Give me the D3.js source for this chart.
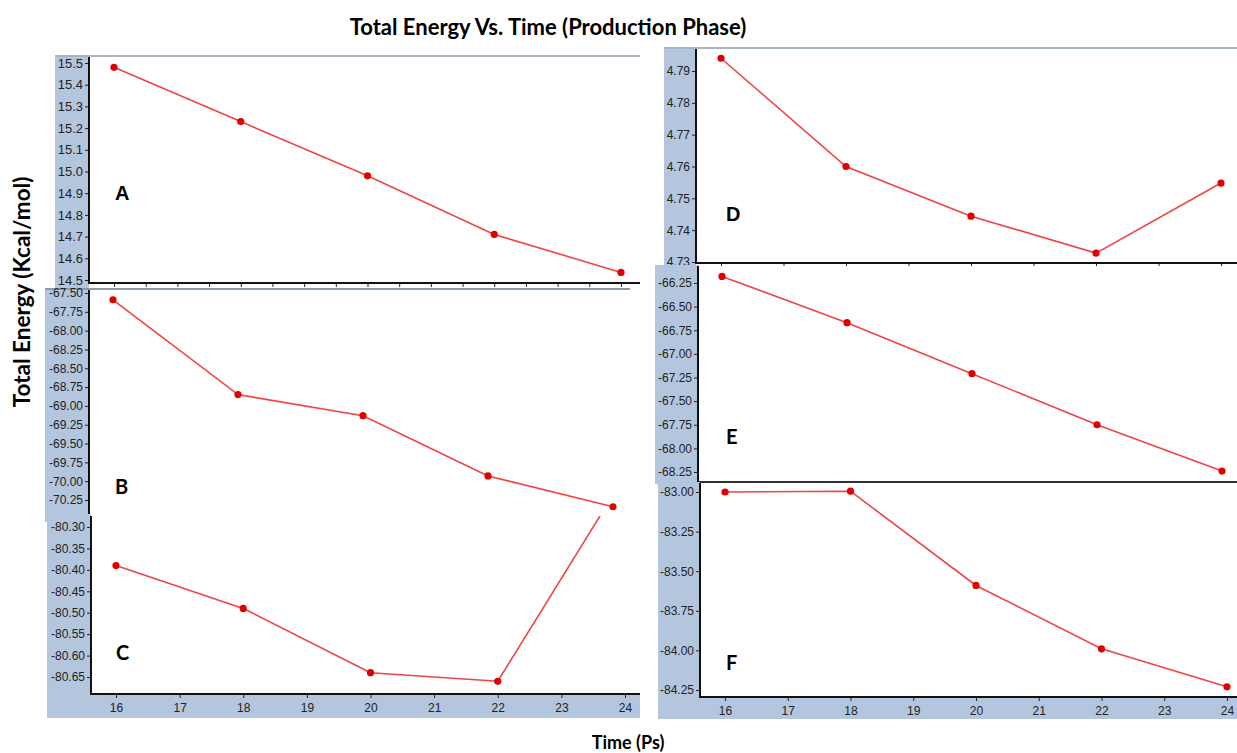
<!DOCTYPE html>
<html>
<head>
<meta charset="utf-8">
<script src="https://cdn.jsdelivr.net/npm/d3@7"></script>
<style>
  html, body { margin: 0; padding: 0; background: #ffffff; }
  svg { display: block; }
</style>
</head>
<body>
<svg id="chart" width="1237" height="753"></svg>
<script>
// ---------------- DATA ----------------
const time = [16, 18, 20, 22, 24];
const energyA = [15.48, 15.23, 14.98, 14.71, 14.535];
const energyB = [-67.59, -68.85, -69.13, -69.93, -70.34];
const energyC = [-80.39, -80.49, -80.64, -80.66, -80.18];
const energyD = [4.794, 4.760, 4.7444, 4.7328, 4.7548];
const energyE = [-66.18, -66.67, -67.21, -67.75, -68.24];
const energyF = [-83.00, -82.995, -83.59, -83.99, -84.23];

const ticksA = [14.5, 14.6, 14.7, 14.8, 14.9, 15.0, 15.1, 15.2, 15.3, 15.4, 15.5];
const ticksB = [-67.5, -67.75, -68.0, -68.25, -68.5, -68.75, -69.0, -69.25, -69.5, -69.75, -70.0, -70.25];
const ticksC = [-80.3, -80.35, -80.4, -80.45, -80.5, -80.55, -80.6, -80.65];
const ticksD = [4.73, 4.74, 4.75, 4.76, 4.77, 4.78, 4.79];
const ticksE = [-66.25, -66.5, -66.75, -67.0, -67.25, -67.5, -67.75, -68.0, -68.25];
const ticksF = [-83.0, -83.25, -83.5, -83.75, -84.0, -84.25];
const timeTicks = [16, 17, 18, 19, 20, 21, 22, 23, 24];
const timeTicksHalf = [16, 16.5, 17, 17.5, 18, 18.5, 19, 19.5, 20, 20.5, 21, 21.5, 22, 22.5, 23, 23.5, 24];

const titleText = "Total Energy Vs. Time (Production Phase)";
const yLabelText = "Total Energy (Kcal/mol)";
const xLabelText = "Time (Ps)";

// ---------------- LAYOUT ----------------
const BLUE = "#b4c6de";
const LINE = "#f04444";
const DOT = "#e00000";

const panels = [
  { id: "A", values: energyA, yTicks: ticksA, fmt: ".1f", xTicks: timeTicksHalf, xLabels: false,
    box: {l: 89, t: 57, r: 640, b: 283}, bgs: [{l: 55, t: 56, r: 89, b: 290}],
    xr: [114, 621], yr: [280, 63], topLine: {x1: 55, x2: 640, y: 56, c: "#a9b4c2"},
    label: {x: 115, y: 200, font: "Liberation Sans"}, fs: 13 },
  { id: "B", values: energyB, yTicks: ticksB, fmt: ".2f", xTicks: [], xLabels: false,
    box: {l: 89, t: 290, r: 630, b: 520}, bgs: [{l: 45, t: 289, r: 89, b: 522}],
    xr: [113, 613], yr: [500, 293], topLine: {x1: 45, x2: 630, y: 289, c: "#8f9aa8"},
    label: {x: 115, y: 494, font: "Lato"}, fs: 12 },
  { id: "C", values: energyC, yTicks: ticksC, fmt: ".2f", xTicks: timeTicks, xLabels: true,
    box: {l: 91, t: 516, r: 640, b: 694}, bgs: [{l: 47, t: 514, r: 91, b: 718}, {l: 47, t: 694, r: 640, b: 718}],
    xr: [116, 625], yr: [677, 527], topLine: null,
    label: {x: 116, y: 660, font: "Lato"}, fs: 12 },
  { id: "D", values: energyD, yTicks: ticksD, fmt: ".2f", xTicks: timeTicks, xLabels: false,
    box: {l: 696, t: 49, r: 1237, b: 263}, bgs: [{l: 664, t: 48, r: 696, b: 266}],
    xr: [721, 1221], yr: [262, 71], topLine: {x1: 664, x2: 1237, y: 48, c: "#a9b4c2"},
    label: {x: 726, y: 221, font: "Liberation Sans"}, fs: 12 },
  { id: "E", values: energyE, yTicks: ticksE, fmt: ".2f", xTicks: [], xLabels: false,
    box: {l: 698, t: 266, r: 1237, b: 482}, bgs: [{l: 655, t: 265, r: 698, b: 484}],
    xr: [722, 1222], yr: [472, 283], topLine: null,
    label: {x: 726, y: 444, font: "Lato"}, fs: 12 },
  { id: "F", values: energyF, yTicks: ticksF, fmt: ".2f", xTicks: timeTicks, xLabels: true,
    box: {l: 700, t: 483, r: 1237, b: 697}, bgs: [{l: 658, t: 482, r: 700, b: 719}, {l: 658, t: 697, r: 1237, b: 719}],
    xr: [725, 1227], yr: [690, 492], topLine: {x1: 700, x2: 1237, y: 482, c: "#333333"},
    label: {x: 726, y: 670, font: "Lato"}, fs: 12 }
];

const svg = d3.select("#chart");
const defs = svg.append("defs");

function fmtMinus(spec) {
  const f = d3.format(spec);
  return v => f(v).replace("\u2212", "-");
}

panels.forEach(p => {
  const g = svg.append("g").attr("class", "panel-" + p.id);
  const b = p.box;

  p.bgs.forEach(r => {
    g.append("rect").attr("x", r.l).attr("y", r.t)
      .attr("width", r.r - r.l).attr("height", r.b - r.t).attr("fill", BLUE);
  });
  g.append("rect").attr("x", b.l).attr("y", b.t)
    .attr("width", b.r - b.l).attr("height", b.b - b.t).attr("fill", "#ffffff");

  if (p.topLine) {
    g.append("line").attr("x1", p.topLine.x1).attr("x2", p.topLine.x2)
      .attr("y1", p.topLine.y).attr("y2", p.topLine.y)
      .attr("stroke", p.topLine.c).attr("stroke-width", 2);
  }

  const x = d3.scaleLinear().domain([16, 24]).range(p.xr);
  const y = d3.scaleLinear().domain([p.yTicks[0], p.yTicks[p.yTicks.length - 1]])
    .range(p.yTicks[0] < p.yTicks[p.yTicks.length - 1] ? p.yr : p.yr.slice().reverse());

  const cid = "clip" + p.id;
  defs.append("clipPath").attr("id", cid).append("rect")
    .attr("x", b.l).attr("y", b.t).attr("width", b.r - b.l).attr("height", b.b - b.t);

  const pts = time.map((t, i) => [t, p.values[i]]);
  const line = d3.line().x(d => x(d[0])).y(d => y(d[1]));
  const cg = g.append("g").attr("clip-path", `url(#${cid})`);
  cg.append("path").datum(pts).attr("d", line)
    .attr("fill", "none").attr("stroke", LINE).attr("stroke-width", 1.6);
  cg.selectAll("circle").data(pts).enter().append("circle")
    .attr("cx", d => x(d[0])).attr("cy", d => y(d[1])).attr("r", 3.6).attr("fill", DOT);

  const yAxis = d3.axisLeft(y).tickValues(p.yTicks).tickSize(4).tickSizeOuter(0)
    .tickPadding(2).tickFormat(fmtMinus(p.fmt));
  const ya = g.append("g").attr("transform", `translate(${b.l},0)`).call(yAxis);
  ya.select(".domain").remove();
  ya.selectAll("text").attr("font-family", "Liberation Sans, Arial, sans-serif")
    .attr("font-size", p.fs).attr("fill", "#222");
  ya.selectAll("line").attr("stroke", "#222");

  const xAxis = d3.axisBottom(x).tickValues(p.xTicks).tickSize(4).tickSizeOuter(0)
    .tickPadding(5).tickFormat(p.xLabels ? d3.format("d") : () => "");
  const xa = g.append("g").attr("transform", `translate(0,${b.b})`).call(xAxis);
  xa.select(".domain").remove();
  xa.selectAll("text").attr("font-family", "Liberation Sans, Arial, sans-serif")
    .attr("font-size", 12).attr("fill", "#222");
  xa.selectAll("line").attr("stroke", "#222");

  g.append("line").attr("x1", b.l).attr("x2", b.l).attr("y1", b.t).attr("y2", b.b + 1)
    .attr("stroke", "#111").attr("stroke-width", 2);
  g.append("line").attr("x1", b.l - 1).attr("x2", b.r).attr("y1", b.b).attr("y2", b.b)
    .attr("stroke", "#111").attr("stroke-width", 2);

  g.append("text").attr("x", p.label.x).attr("y", p.label.y)
    .attr("font-family", p.label.font + ", sans-serif").attr("font-weight", "bold")
    .attr("font-size", 20).attr("fill", "#000").text(p.id);
});

svg.append("text").attr("x", 548).attr("y", 35).attr("text-anchor", "middle")
  .attr("font-family", "Lato, sans-serif").attr("font-weight", "bold")
  .attr("font-size", 22).attr("fill", "#000").text(titleText);

svg.append("text").attr("transform", "translate(30,292) rotate(-90)").attr("text-anchor", "middle")
  .attr("font-family", "Lato, sans-serif").attr("font-weight", "bold")
  .attr("font-size", 22.5).attr("fill", "#000").text(yLabelText);

svg.append("text").attr("x", 628).attr("y", 749).attr("text-anchor", "middle")
  .attr("font-family", "Lato, sans-serif").attr("font-weight", "bold")
  .attr("font-size", 18).attr("fill", "#000").text(xLabelText);
</script>
</body>
</html>
